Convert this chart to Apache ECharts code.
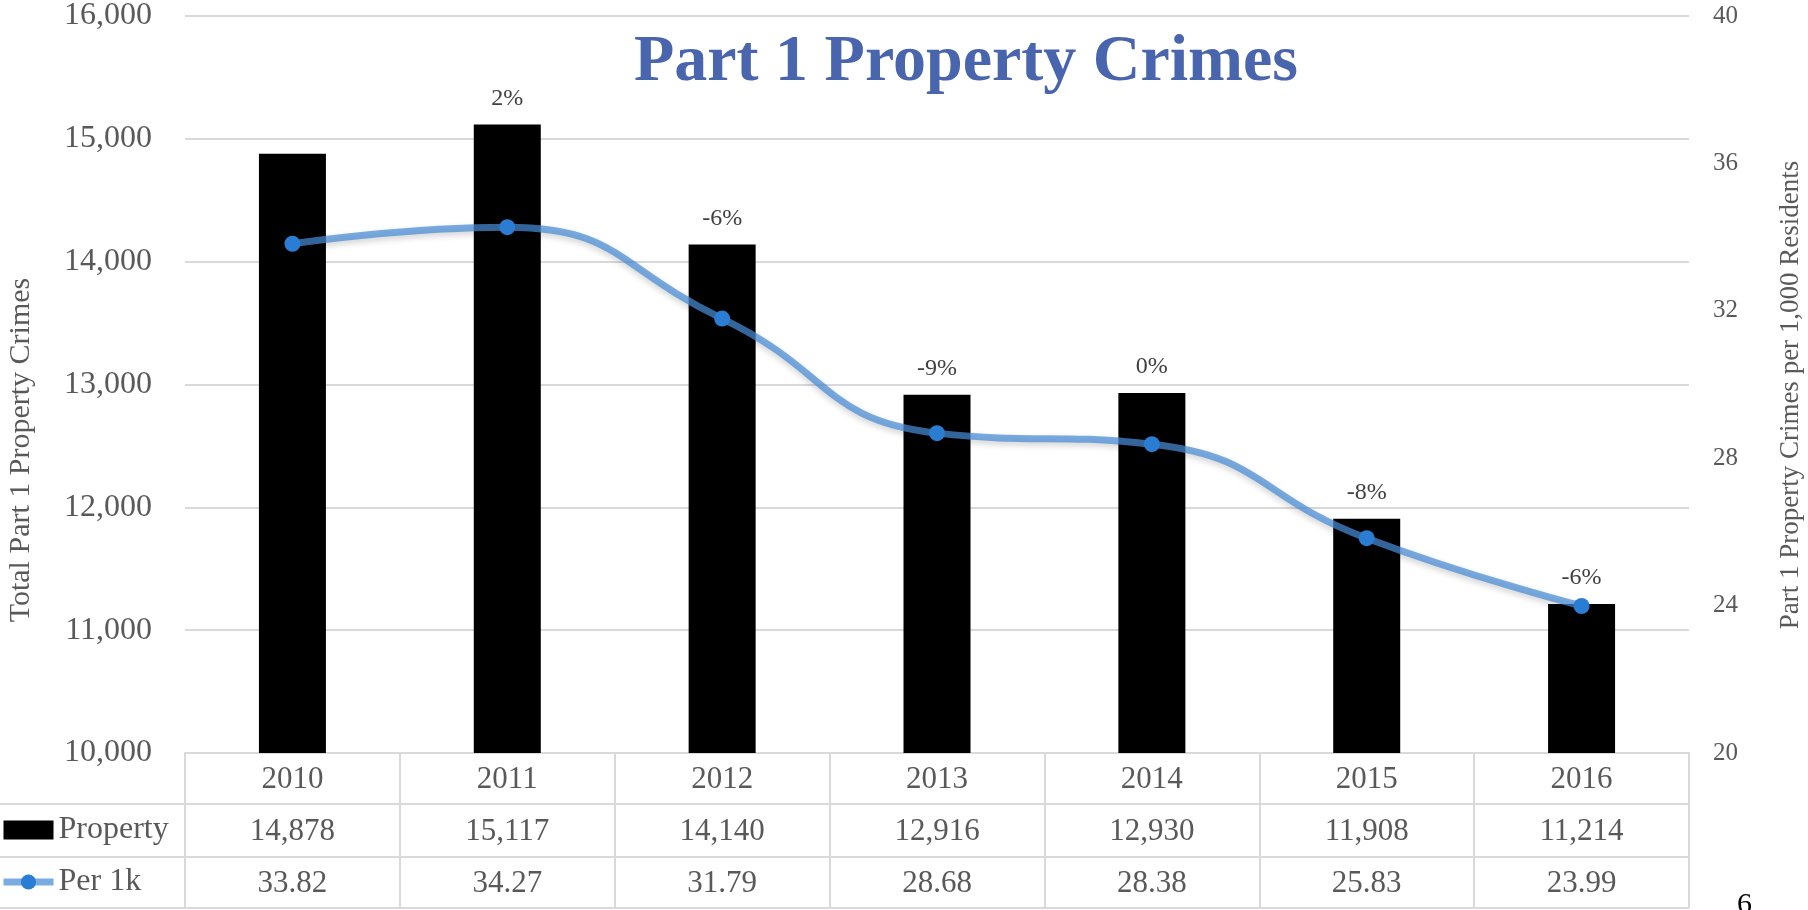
<!DOCTYPE html>
<html>
<head>
<meta charset="utf-8">
<title>Part 1 Property Crimes</title>
<script src="https://cdn.jsdelivr.net/npm/echarts@6/dist/echarts.min.js"></script>
<style>
  html, body { margin: 0; padding: 0; background: #fff; }
  #chart { width: 1808px; height: 910px; }
</style>
</head>
<body>
<div id="chart"></div>
<script>
// data
var years = ['2010', '2011', '2012', '2013', '2014', '2015', '2016'];
var property = [14878, 15117, 14140, 12916, 12930, 11908, 11214];
var per1k = [33.82, 34.27, 31.79, 28.68, 28.38, 25.83, 23.99];
var changes = ['', '2%', '-6%', '-9%', '0%', '-8%', '-6%'];

var FONT = '"Liberation Serif", "DejaVu Serif", serif';
var GREY = '#595959';
var LINE_C = '#d9d9d9';
var LINE_BLUE = 'rgba(70, 140, 215, 0.72)';

var myChart = echarts.init(document.getElementById('chart'));

// table rows under the plot (y of the row borders)
var rowLines = [804, 857, 908];
var tableGraphics = rowLines.map(function (y) {
  return {
    type: 'line',
    shape: { x1: 0, y1: y, x2: 1689, y2: y },
    style: { stroke: LINE_C, lineWidth: 2 },
    silent: true
  };
});

var option = {
  backgroundColor: '#fff',
  textStyle: { fontFamily: FONT },
  title: {
    text: 'Part 1 Property Crimes',
    left: 634,
    top: 30,
    padding: 0,
    textStyle: {
      fontFamily: FONT,
      fontSize: 66,
      fontWeight: 'bold',
      color: '#4865ad'
    }
  },
  legend: {
    orient: 'vertical',
    left: 0,
    top: 814,
    padding: 0,
    itemWidth: 50,
    itemHeight: 19,
    itemGap: 20,
    formatter: '{n|{name}}',
    textStyle: {
      fontFamily: FONT,
      fontSize: 32,
      color: GREY,
      rich: { n: { fontFamily: FONT, fontSize: 32, color: GREY } }
    },
    data: [
      { name: 'Property', icon: 'rect' },
      {
        name: 'Per 1k',
        lineStyle: { width: 7, color: LINE_BLUE },
        itemStyle: { color: '#2b7cd3' }
      }
    ]
  },
  grid: {
    left: 185,
    right: 119,
    top: 16,
    bottom: 157,
    outerBoundsMode: 'none'
  },
  xAxis: {
    type: 'category',
    data: years,
    axisLine: { lineStyle: { color: LINE_C, width: 2 } },
    axisTick: { show: true, length: 155, lineStyle: { color: LINE_C, width: 2 } },
    axisLabel: {
      margin: 1,
      interval: 0,
      formatter: function (val, idx) {
        return '{t|' + val + '}\n{t|' + property[idx].toLocaleString('en-US') +
          '}\n{t|' + per1k[idx].toFixed(2) + '}';
      },
      rich: {
        t: { fontFamily: FONT, fontSize: 31, color: GREY, lineHeight: 52, align: 'center' }
      }
    }
  },
  yAxis: [
    {
      type: 'value',
      min: 10000,
      max: 16000,
      interval: 1000,
      axisLine: { show: false },
      axisTick: { show: false },
      axisLabel: {
        margin: 33,
        fontFamily: FONT,
        fontSize: 32,
        color: GREY,
        formatter: function (v) { return v.toLocaleString('en-US'); }
      },
      splitLine: { lineStyle: { color: LINE_C, width: 2 } }
    },
    {
      type: 'value',
      min: 20,
      max: 40,
      interval: 4,
      axisLine: { show: false },
      axisTick: { show: false },
      splitLine: { show: false },
      axisLabel: { margin: 24, fontFamily: FONT, fontSize: 25, color: GREY }
    }
  ],
  series: [
    {
      name: 'Property',
      type: 'bar',
      data: property,
      barWidth: 67,
      itemStyle: { color: '#000' },
      label: {
        show: true,
        position: 'top',
        distance: 14,
        fontFamily: FONT,
        fontSize: 24,
        color: '#404040',
        formatter: function (p) { return changes[p.dataIndex]; }
      },
      z: 2
    },
    {
      name: 'Per 1k',
      type: 'line',
      yAxisIndex: 1,
      data: per1k,
      smooth: 0.5,
      symbol: 'circle',
      symbolSize: 16,
      itemStyle: { color: '#2b7cd3' },
      lineStyle: {
        color: LINE_BLUE,
        width: 7,
        shadowColor: 'rgba(0, 0, 0, 0.25)',
        shadowBlur: 6,
        shadowOffsetY: 3
      },
      z: 3
    }
  ],
  graphic: tableGraphics.concat([
    {
      type: 'text',
      x: 21,
      y: 450,
      rotation: Math.PI / 2,
      style: {
        text: 'Total Part 1 Property Crimes',
        fontFamily: FONT,
        fontSize: 30,
        fill: GREY,
        align: 'center',
        verticalAlign: 'middle'
      }
    },
    {
      type: 'text',
      x: 1791,
      y: 395,
      rotation: Math.PI / 2,
      style: {
        text: 'Part 1 Property Crimes per 1,000 Residents',
        fontFamily: FONT,
        fontSize: 27,
        fill: GREY,
        align: 'center',
        verticalAlign: 'middle'
      }
    },
    {
      type: 'text',
      x: 1737,
      y: 890,
      style: { text: '6', fontFamily: FONT, fontSize: 30, fill: '#000' }
    }
  ])
};

myChart.setOption(option);
window.addEventListener('resize', function () { myChart.resize(); });
</script>
</body>
</html>
